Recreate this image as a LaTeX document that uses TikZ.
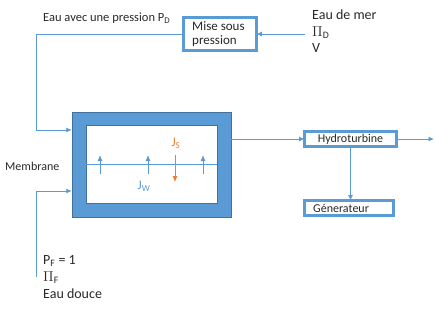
\documentclass[tikz,border=0pt]{standalone}
\usepackage{fontspec}
\setmainfont{Carlito}
\usetikzlibrary{arrows.meta}
\definecolor{mblue}{RGB}{91,155,213}
\definecolor{mdark}{RGB}{65,113,156}
\definecolor{morange}{RGB}{237,125,49}
\definecolor{mtext}{RGB}{40,40,40}
\tikzset{
  flow/.style={draw=mblue, line width=0.8pt, -{Latex[length=5.5pt,width=5pt]}},
  plain/.style={draw=mblue, line width=0.8pt},
  smallbox/.style={draw=mdark, line width=0.4pt, double=mblue, double distance=2.6pt, fill=white, inner sep=0pt},
  lbl/.style={text=mtext, inner sep=0pt, align=left},
}
\begin{document}
\begin{tikzpicture}[x=1pt,y=-1pt]
\useasboundingbox (0,0) rectangle (436,327);
% membrane box
\node[draw=mdark, line width=0.5pt, fill=mblue, minimum width=159pt, minimum height=105pt, inner sep=0pt] (memb) at (151.5,164.5) {};
\node[draw=mdark, line width=0.5pt, fill=white, minimum width=131pt, minimum height=78pt, inner sep=0pt] (inner) at (151.5,164) {};
% small boxes
\node[smallbox, minimum width=72.5pt, minimum height=32.5pt] (mise) at (220,34) {};
\node[lbl, anchor=west, font=\fontsize{13}{14.5}\selectfont] (misetxt) at (192,34) {Mise sous\\pression};
\node[smallbox, minimum width=91.5pt, minimum height=14.5pt, font=\fontsize{12}{14}\selectfont, text=mtext] (hydro) at (350.5,139) {Hydroturbine};
\node[smallbox, minimum width=88.5pt, minimum height=14.5pt] (gen) at (349,208) {};
\node[lbl, anchor=west, font=\fontsize{12}{14}\selectfont] (gentxt) at (313,208) {Génerateur};
% texts
\node[lbl, anchor=west, font=\fontsize{12.5}{14}\selectfont] (eaup) at (43,18) {Eau avec une pression P\textsubscript{D}};
\node[lbl, anchor=north west, font=\fontsize{14}{16.5}\selectfont] (mer) at (312,10) {Eau de mer\\$\Pi$\textsubscript{D}\\V};
\node[lbl, anchor=west, font=\fontsize{12}{14}\selectfont] (membl) at (5,166) {Membrane};
\node[lbl, anchor=north west, font=\fontsize{14}{17}\selectfont] (douce) at (43,255) {P\textsubscript{F} = 1\\$\Pi$\textsubscript{F}\\Eau douce};
% connectors
\coordinate (merin) at (305,34);
\coordinate (c1) at (36,34);
\coordinate (c2) at (36,130);
\coordinate (c3) at (36,277);
\coordinate (c4) at (36,191);
\coordinate (out) at (434,139);
\draw[flow] (merin) -- (mise.east);
\draw[flow] (mise.west) -- (c1) -- (c2) -- (c2 -| memb.west);
\draw[flow] (c3) -- (c4) -- (c4 -| memb.west);
\draw[flow] (memb.east |- hydro.west) -- (hydro.west);
\draw[flow] (hydro.east) -- (out);
\draw[flow] (hydro.south) -- (hydro.south |- gen.north);
% membrane interior
\draw[plain] (inner.west) -- (inner.east);
\foreach \x in {100,148,203} \draw[flow, -{Latex[length=6pt,width=5pt]}] (\x,174) -- (\x,155);
\draw[draw=morange, line width=0.8pt, -{Latex[length=6pt,width=5pt]}] (175,155) -- (175,182);
\node[text=morange, inner sep=0pt, font=\fontsize{13}{14}\selectfont] (js) at (176,143) {J\textsubscript{S}};
\node[text=mblue, inner sep=0pt, font=\fontsize{13}{14}\selectfont] (jw) at (144,186) {J\textsubscript{W}};
\end{tikzpicture}
\end{document}
